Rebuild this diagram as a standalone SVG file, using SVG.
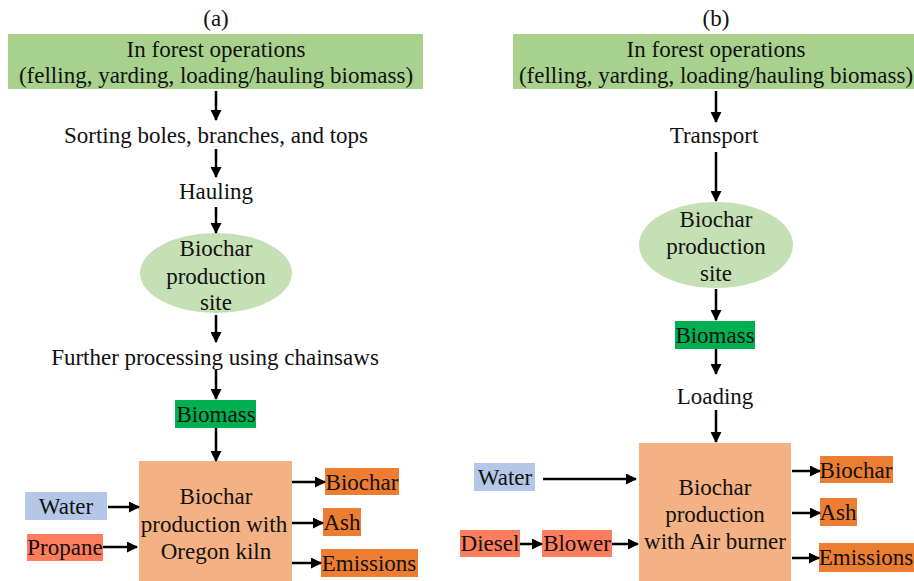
<svg xmlns="http://www.w3.org/2000/svg" width="914" height="581" viewBox="0 0 914 581">
<defs>
<marker id="ah" markerWidth="11" markerHeight="11" refX="10" refY="5.5" orient="auto" markerUnits="userSpaceOnUse">
<path d="M0,0 L11,5.5 L0,11 Z" fill="#000"/>
</marker>
<style>
text{font-size:23px;fill:#111;text-anchor:middle}
.lt{fill:#A9D18E}
.el{fill:#C5E0B4}
.bm{fill:#00B050}
.kb{fill:#F4B183}
.wa{fill:#B4C7E7}
.fu{fill:#FF7C5C}
.out{fill:#ED7D31}
.c line{stroke:#000;stroke-width:2.5;marker-end:url(#ah)}
</style>
</defs>
<rect width="914" height="581" fill="#fff"/>
<g font-family="'Liberation Serif', 'DejaVu Serif', serif">
<text x="216" y="26">(a)</text>
<text x="716" y="26">(b)</text>

<g id="a-forest"><rect class="lt" x="8" y="34" width="415" height="55"/><text x="216" y="57">In forest operations</text><text x="216" y="83">(felling,  yarding, loading/hauling biomass)</text></g>
<g id="a-sorting"><text x="216" y="143">Sorting boles, branches, and tops</text></g>
<g id="a-hauling"><text x="216" y="199">Hauling</text></g>
<g id="a-site"><ellipse class="el" cx="216" cy="273" rx="76" ry="40"/><text x="216" y="256">Biochar</text><text x="216" y="284">production</text><text x="216" y="310">site</text></g>
<g id="a-further"><text x="215" y="365">Further processing using chainsaws</text></g>
<g id="a-biomass"><rect class="bm" x="175" y="400" width="81" height="28"/><text x="216" y="422">Biomass</text></g>
<g id="a-kiln"><rect class="kb" x="139" y="461" width="153" height="125"/><text x="216" y="504">Biochar</text><text x="214" y="532">production with</text><text x="216" y="559">Oregon kiln</text></g>
<g id="a-water"><rect class="wa" x="25" y="492" width="82" height="28"/><text x="66" y="514">Water</text></g>
<g id="a-propane"><rect class="fu" x="27" y="534" width="76" height="27"/><text x="65" y="555">Propane</text></g>
<g id="a-biochar"><rect class="out" x="325" y="468" width="74" height="27"/><text x="362" y="490">Biochar</text></g>
<g id="a-ash"><rect class="out" x="323" y="508" width="38" height="28"/><text x="342" y="530">Ash</text></g>
<g id="a-emissions"><rect class="out" x="321" y="549" width="97" height="28"/><text x="369" y="571">Emissions</text></g>

<g id="b-forest"><rect class="lt" x="513" y="34" width="401" height="55"/><text x="716" y="57">In forest operations</text><text x="716" y="83">(felling,  yarding, loading/hauling biomass)</text></g>
<g id="b-transport"><text x="714" y="143">Transport</text></g>
<g id="b-site"><ellipse class="el" cx="716" cy="245" rx="77" ry="43"/><text x="716" y="227">Biochar</text><text x="716" y="254">production</text><text x="716" y="281">site</text></g>
<g id="b-biomass"><rect class="bm" x="675" y="321" width="80" height="28"/><text x="715" y="343">Biomass</text></g>
<g id="b-loading"><text x="715" y="404">Loading</text></g>
<g id="b-burner"><rect class="kb" x="639" y="443" width="152" height="143"/><text x="715" y="495">Biochar</text><text x="715" y="522">production</text><text x="715" y="549">with Air burner</text></g>
<g id="b-water"><rect class="wa" x="474" y="463" width="61" height="28"/><text x="505" y="485">Water</text></g>
<g id="b-diesel"><rect class="fu" x="460" y="530" width="60" height="27"/><text x="490" y="551">Diesel</text></g>
<g id="b-blower"><rect class="fu" x="542" y="530" width="70" height="27"/><text x="577" y="551">Blower</text></g>
<g id="b-biochar"><rect class="out" x="820" y="456" width="73" height="27"/><text x="856" y="478">Biochar</text></g>
<g id="b-ash"><rect class="out" x="820" y="498" width="37" height="28"/><text x="838" y="520">Ash</text></g>
<g id="b-emissions"><rect class="out" x="819" y="543" width="95" height="29"/><text x="866" y="565">Emissions</text></g>
</g>

<g id="connectors" class="c">
<line x1="216" y1="91" x2="216" y2="120"/>
<line x1="216" y1="149" x2="216" y2="177"/>
<line x1="216" y1="207" x2="216" y2="233"/>
<line x1="216" y1="315" x2="216" y2="342"/>
<line x1="216" y1="370" x2="216" y2="399"/>
<line x1="216" y1="428" x2="216" y2="461"/>
<line x1="108" y1="507" x2="139" y2="507"/>
<line x1="103" y1="547" x2="137" y2="547"/>
<line x1="292" y1="482" x2="325" y2="482"/>
<line x1="292" y1="523" x2="323" y2="523"/>
<line x1="292" y1="563" x2="321" y2="563"/>
<line x1="716" y1="91" x2="716" y2="122"/>
<line x1="716" y1="152" x2="716" y2="201"/>
<line x1="716" y1="289" x2="716" y2="320"/>
<line x1="716" y1="349" x2="716" y2="374"/>
<line x1="716" y1="410" x2="716" y2="442"/>
<line x1="543" y1="479" x2="636" y2="479"/>
<line x1="520" y1="544" x2="542" y2="544"/>
<line x1="612" y1="544" x2="638" y2="544"/>
<line x1="792" y1="471" x2="820" y2="471"/>
<line x1="792" y1="513" x2="820" y2="513"/>
<line x1="792" y1="558" x2="819" y2="558"/>
</g>
</svg>
